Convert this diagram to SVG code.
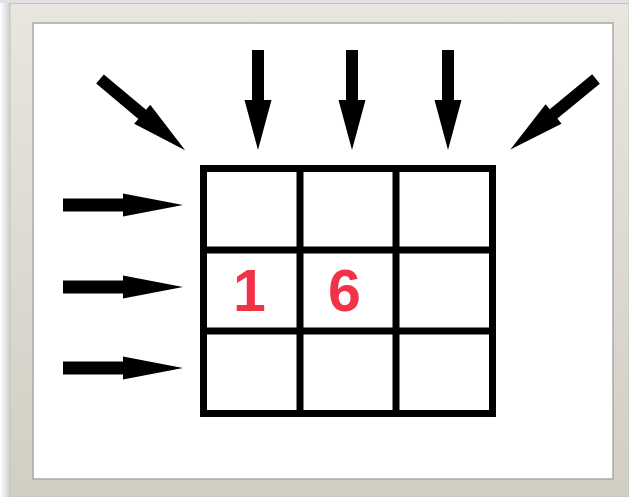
<svg xmlns="http://www.w3.org/2000/svg" width="629" height="497" viewBox="0 0 629 497">
  <defs>
    <linearGradient id="frameGrad" x1="0" y1="0" x2="0" y2="1">
      <stop offset="0" stop-color="#e9e6df"/>
      <stop offset="1" stop-color="#d2cec4"/>
    </linearGradient>
    <linearGradient id="shadowL" x1="0" y1="0" x2="1" y2="0">
      <stop offset="0" stop-color="#ffffff"/>
      <stop offset="1" stop-color="#cfcfcf"/>
    </linearGradient>
    <style>
      .arrow { fill: #000000; }
      .grid { fill: none; stroke: #000000; stroke-width: 7; }
      .num { font-family: "Liberation Sans", Arial, sans-serif; font-weight: bold; font-size: 59px; fill: #f23347; text-anchor: middle; }
    </style>
  </defs>
  <rect x="0" y="0" width="629" height="497" fill="#ffffff"/>
  <rect x="0" y="0" width="10" height="497" fill="url(#shadowL)"/>
  <rect x="0" y="0" width="629" height="3" fill="#e2e2e2"/>
  <rect x="10" y="3.5" width="619" height="493.5" fill="url(#frameGrad)" stroke="#c4c4c4" stroke-width="1"/>
  <rect x="33" y="23" width="580" height="456" fill="#ffffff" stroke="#a8a8a8" stroke-width="1.5"/>

  <g id="grid">
    <rect class="grid" x="203.5" y="168.5" width="289" height="245"/>
    <line class="grid" x1="300" y1="168.5" x2="300" y2="413.5"/>
    <line class="grid" x1="396" y1="168.5" x2="396" y2="413.5"/>
    <line class="grid" x1="203.5" y1="250" x2="492.5" y2="250"/>
    <line class="grid" x1="203.5" y1="331" x2="492.5" y2="331"/>
  </g>
  <g id="cell-1"><text class="num" x="249.5" y="310.5">1</text></g>
  <g id="cell-6"><text class="num" x="344.5" y="310.5">6</text></g>

  <g id="connectors">
    <path class="arrow" transform="translate(100,79) rotate(39.9)" d="M0,-6 L55,-6 L55,-12.5 L111,0 L55,12.5 L55,6 L0,6 Z"/>
    <path class="arrow" transform="translate(596,79) rotate(140.5)" d="M0,-6 L55,-6 L55,-12.5 L111,0 L55,12.5 L55,6 L0,6 Z"/>
    <path class="arrow" transform="translate(258,50)" d="M-6,0 L6,0 L6,50 L13.5,50 L0,100 L-13.5,50 L-6,50 Z"/>
    <path class="arrow" transform="translate(352,50)" d="M-6,0 L6,0 L6,50 L13.5,50 L0,100 L-13.5,50 L-6,50 Z"/>
    <path class="arrow" transform="translate(448,50)" d="M-6,0 L6,0 L6,50 L13.5,50 L0,100 L-13.5,50 L-6,50 Z"/>
    <path class="arrow" transform="translate(63,205)" d="M0,-6.5 L60,-6.5 L60,-11.5 L120,0 L60,11.5 L60,6.5 L0,6.5 Z"/>
    <path class="arrow" transform="translate(63,287)" d="M0,-6.5 L60,-6.5 L60,-11.5 L120,0 L60,11.5 L60,6.5 L0,6.5 Z"/>
    <path class="arrow" transform="translate(63,368)" d="M0,-6.5 L60,-6.5 L60,-11.5 L120,0 L60,11.5 L60,6.5 L0,6.5 Z"/>
  </g>
</svg>
